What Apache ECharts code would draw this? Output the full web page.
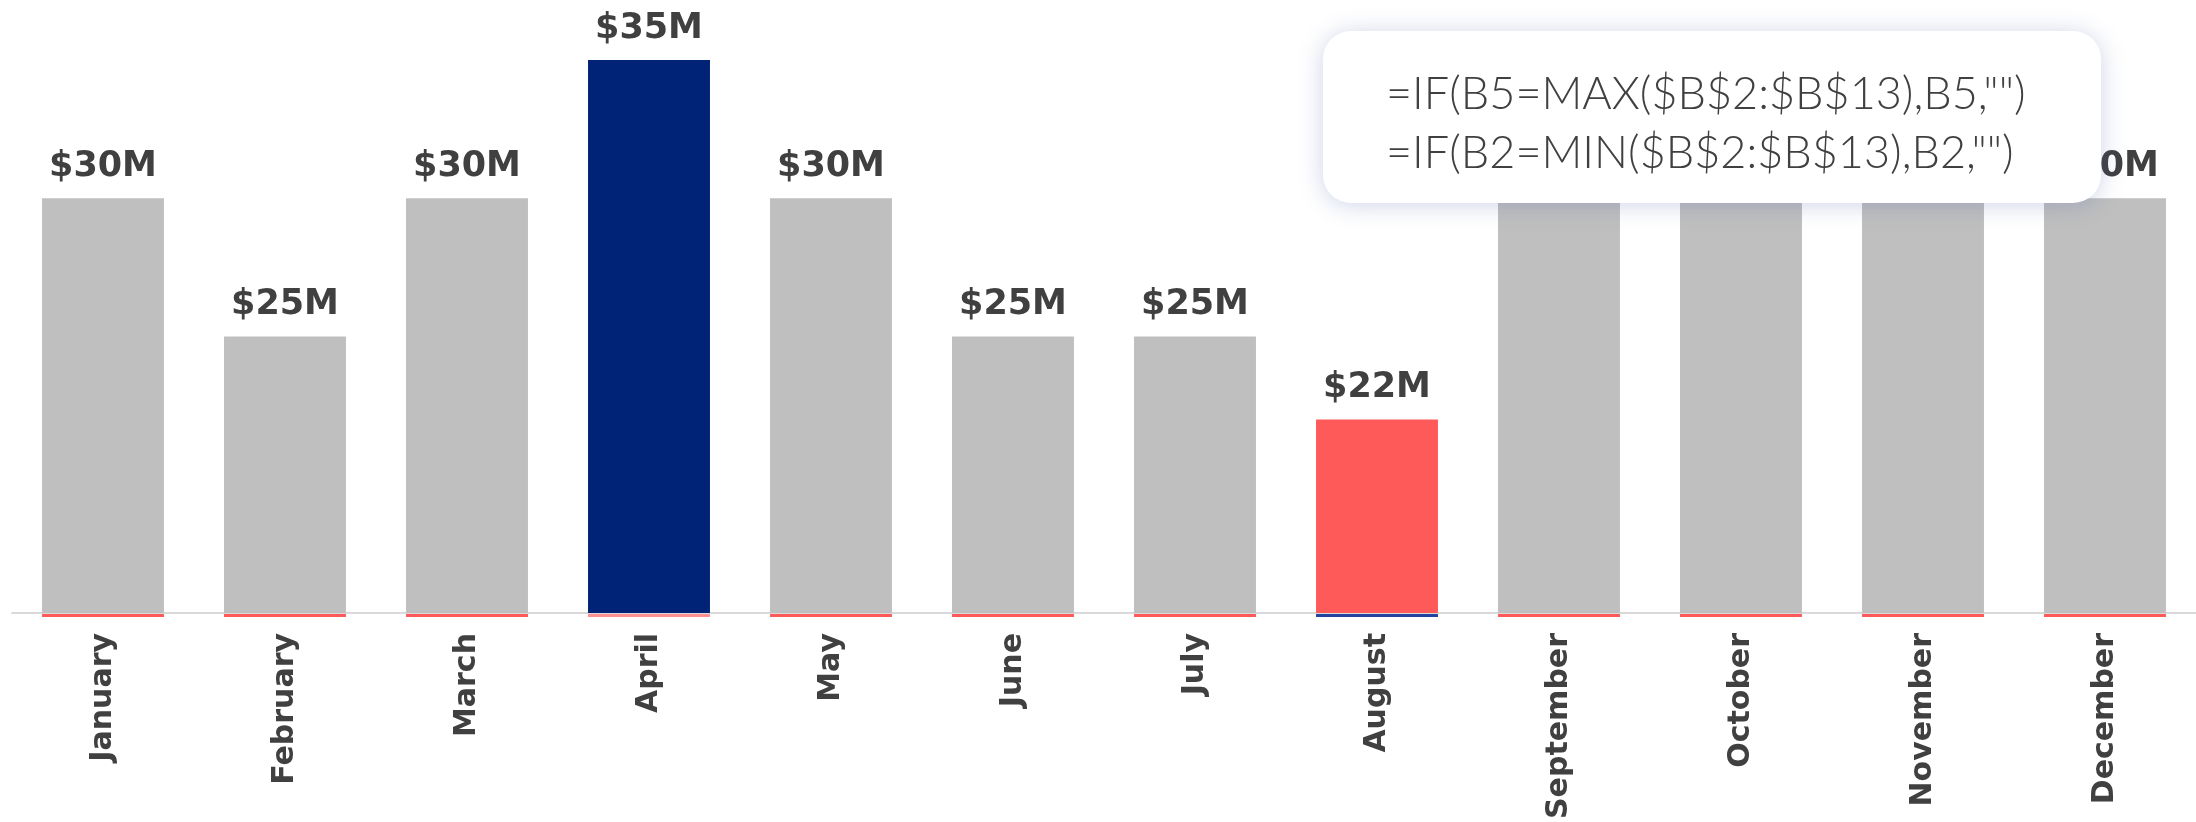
<!DOCTYPE html>
<html lang="en">

<head>
    <meta charset="UTF-8">
    <title>Monthly sales - max / min highlight</title>
    <script src="https://cdn.jsdelivr.net/npm/echarts@6/dist/echarts.min.js"></script>
    <style>
        body,
        html {
            padding: 0;
            margin: 0;
            background: #fff;
        }

        #chart-panel {
            height: 822px;
            width: 2196px;
        }
    </style>
</head>

<body>
    <div id="chart-panel"></div>
    <script>
        // data
        var months = ['January', 'February', 'March', 'April', 'May', 'June',
            'July', 'August', 'September', 'October', 'November', 'December'];
        var sales = [30, 25, 30, 35, 30, 25, 25, 22, 30, 30, 30, 30]; // $M
        var formulas = [
            '=IF(B5=MAX($B$2:$B$13),B5,"")',
            '=IF(B2=MIN($B$2:$B$13),B2,"")'
        ];

        var maxVal = Math.max.apply(null, sales);
        var minVal = Math.min.apply(null, sales);

        function barColor(v) {
            if (v === maxVal) return '#002378';
            if (v === minVal) return '#ff5a5a';
            return '#bfbfbf';
        }
        // thin strip under each bar (the empty max/min series in the sheet)
        function stripColor(v) {
            if (v === minVal) return '#2244a0';
            if (v === maxVal) return '#ff9090';
            return '#ff5a5a';
        }

        var option = {
            backgroundColor: '#fff',
            animation: false,
            grid: [
                { left: 12, right: 0, top: 60, bottom: 209 },
                { left: 12, right: 0, top: 614, height: 3 }
            ],
            xAxis: [{
                type: 'category',
                data: months,
                gridIndex: 0,
                axisTick: { show: false },
                axisLine: { lineStyle: { color: '#d9d9d9', width: 2 } },
                axisLabel: {
                    rotate: 90,
                    interval: 0,
                    margin: 20,
                    color: '#404040',
                    fontFamily: 'DejaVu Sans',
                    fontWeight: 'bold',
                    fontSize: 30
                }
            }, {
                type: 'category',
                data: months,
                gridIndex: 1,
                show: false
            }],
            yAxis: [{
                type: 'value',
                gridIndex: 0,
                min: 15,
                max: 35,
                show: false
            }, {
                type: 'value',
                gridIndex: 1,
                min: 0,
                max: 1,
                show: false
            }],
            series: [{
                type: 'bar',
                data: sales,
                barWidth: '67%',
                itemStyle: {
                    color: function (p) { return barColor(p.value); }
                },
                label: {
                    show: true,
                    position: 'top',
                    distance: 14,
                    color: '#404040',
                    fontFamily: 'DejaVu Sans',
                    fontWeight: 'bold',
                    fontSize: 35,
                    formatter: function (p) { return '$' + p.value + 'M'; }
                }
            }, {
                type: 'bar',
                xAxisIndex: 1,
                yAxisIndex: 1,
                barWidth: '67%',
                silent: true,
                data: sales.map(function (v) {
                    return { value: 1, itemStyle: { color: stripColor(v) } };
                })
            }],
            graphic: [{
                type: 'group',
                left: 1323,
                top: 31,
                zlevel: 1,
                z: 100,
                children: [{
                    type: 'rect',
                    zlevel: 1,
                    z: 100,
                    shape: { x: 0, y: 0, width: 778, height: 172, r: 28 },
                    style: {
                        fill: '#fff',
                        shadowBlur: 24,
                        shadowColor: 'rgba(80,100,170,0.28)',
                        shadowOffsetY: 2
                    }
                }, {
                    type: 'text',
                    zlevel: 1,
                    z: 101,
                    x: 63,
                    y: 63,
                    style: {
                        text: formulas[0],
                        fill: '#404040',
                        font: '300 45px Lato',
                        verticalAlign: 'middle'
                    }
                }, {
                    type: 'text',
                    zlevel: 1,
                    z: 101,
                    x: 63,
                    y: 122,
                    style: {
                        text: formulas[1],
                        fill: '#404040',
                        font: '300 45px Lato',
                        verticalAlign: 'middle'
                    }
                }]
            }]
        };

        var chartVM = echarts.init(document.getElementById('chart-panel'));
        chartVM.setOption(option);
    </script>
</body>

</html>
